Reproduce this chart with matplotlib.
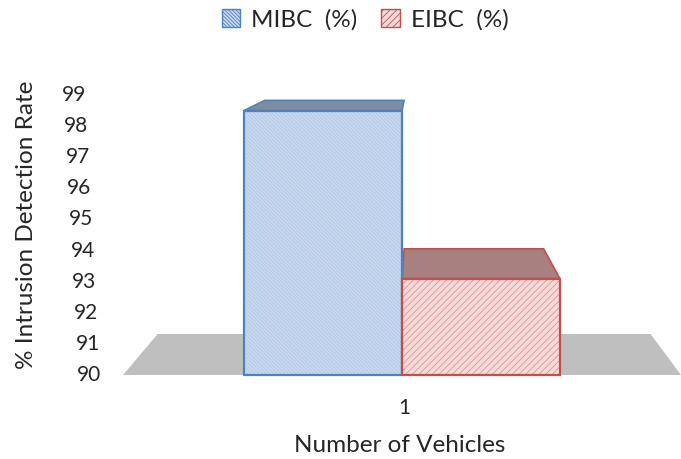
import matplotlib.pyplot as plt
from matplotlib.patches import Polygon, Rectangle, Patch

# -------------------------------------------------------
# Datos
# -------------------------------------------------------

categorias = ["1"]
mibc = [98.5]
eibc = [93.1]
series = ["MIBC  (%)", "EIBC  (%)"]
ticks_y = list(range(90, 100))

# -------------------------------------------------------
# Estilo
# -------------------------------------------------------

plt.rcParams["font.family"] = ["Lato", "DejaVu Sans"]
plt.rcParams["hatch.linewidth"] = 0.6

AZUL = dict(cara="#C8D8EF", rayas="#B3C7E4", borde="#4F81BD", tapa="#7E8CA0")
ROJO = dict(cara="#F6DADA", rayas="#E09595", borde="#C0504D", tapa="#A98080")
SUELO = "#BFBFBF"
TEXTO = "#262626"

ANCHO = 0.566
# punto de fuga (coordenadas de datos) y profundidad relativa
FUGA = (1.065, 101.3)
K = 0.1166


def fondo(x, y):
    return (x + (FUGA[0] - x) * K, y + (FUGA[1] - y) * K)


def barra(ax, x0, x1, base, valor, est, rayado):
    # tapa superior
    tapa = [(x0, valor), (x1, valor), fondo(x1, valor), fondo(x0, valor)]
    ax.add_patch(Polygon(tapa, closed=True, facecolor=est["tapa"],
                         edgecolor=est["borde"], linewidth=1.2,
                         clip_on=False, zorder=2))
    # cara frontal
    ax.add_patch(Rectangle((x0, base), x1 - x0, valor - base,
                           facecolor=est["cara"], edgecolor="none",
                           clip_on=False, zorder=3))
    ax.add_patch(Rectangle((x0, base), x1 - x0, valor - base,
                           fill=False, hatch=rayado, edgecolor=est["rayas"],
                           linewidth=0, clip_on=False, zorder=4))
    ax.add_patch(Rectangle((x0, base), x1 - x0, valor - base,
                           fill=False, edgecolor=est["borde"], linewidth=1.6,
                           clip_on=False, zorder=5))


fig = plt.figure(figsize=(6.81, 4.59), dpi=100)

ax = fig.add_axes([123 / 681, (459 - 375) / 459, (681 - 123) / 681, 280 / 459])
ax.set_xlim(0, 2)
ax.set_ylim(ticks_y[0], ticks_y[-1])
ax.axis("off")

base = ticks_y[0]

# suelo
suelo = [(0, base), (2, base), fondo(2, base), fondo(0, base)]
ax.add_patch(Polygon(suelo, closed=True, facecolor=SUELO, edgecolor="none",
                     clip_on=False, zorder=1))

for i, cat in enumerate(categorias):
    centro = i + 1
    barra(ax, centro - ANCHO, centro, base, mibc[i], AZUL, "\\" * 9)
    barra(ax, centro, centro + ANCHO, base, eibc[i], ROJO, "/////")
    ax.annotate(cat, xy=(centro, base), xytext=(2, -24),
                textcoords="offset points", ha="center", va="center",
                fontsize=15, color=TEXTO)

# etiquetas del eje y (escalonadas por la perspectiva)
for v in ticks_y:
    dx = (-61 + (ticks_y[-1] - v) * 1.7) * 0.72
    ax.annotate(str(v), xy=(0, v), xytext=(dx, 0), textcoords="offset points",
                ha="left", va="center", fontsize=15, color=TEXTO)

fig.text(27 / 681, 1 - 225 / 459, "% Intrusion Detection Rate", rotation=90,
         ha="center", va="center", fontsize=17.5, color=TEXTO)
fig.text(400 / 681, 1 - 445 / 459, "Number of Vehicles",
         ha="center", va="center", fontsize=17.5, color=TEXTO)

manijas = [
    Patch(facecolor=AZUL["cara"], edgecolor=AZUL["borde"], hatch="\\" * 9),
    Patch(facecolor=ROJO["cara"], edgecolor=ROJO["borde"], hatch="/////"),
]
fig.legend(manijas, series, loc="center", bbox_to_anchor=(0.536, 1 - 20 / 459),
           ncol=2, frameon=False, fontsize=17.5, handlelength=0.75,
           handleheight=0.75, handletextpad=0.45, columnspacing=1.0,
           labelcolor=TEXTO)

fig.savefig("out.png", dpi=100)
